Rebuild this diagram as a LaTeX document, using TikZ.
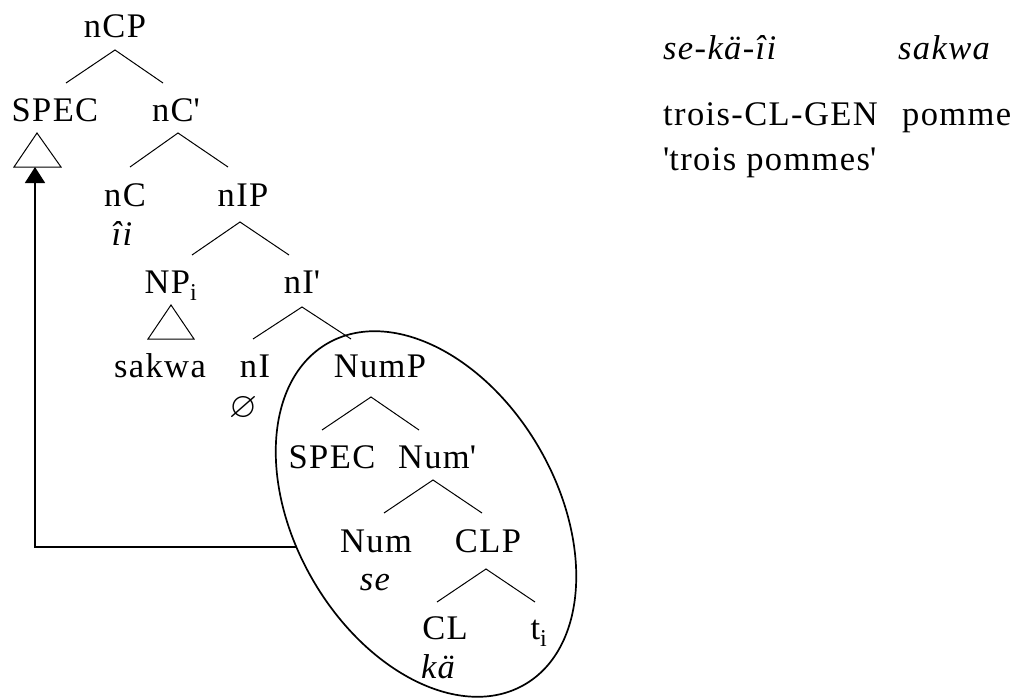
\documentclass[tikz,border=0pt]{standalone}
\usepackage{fontspec}
\setmainfont{Liberation Serif}[LetterSpace=4]
\usepackage{amssymb}
\usetikzlibrary{arrows.meta}
\begin{document}
\begin{tikzpicture}[x=1pt,y=-1pt,
  font=\fontsize{34.5}{40}\selectfont,
  tx/.style={inner sep=0pt, anchor=base},
  gl/.style={inner sep=0pt, anchor=base west},
  br/.style={line width=1pt},
  tri/.style={line width=1pt},
  mv/.style={line width=1.7pt},
  ring/.style={line width=1.7pt}]
\useasboundingbox (0,0) rectangle (1014,698);

% tree labels
\node[tx] (nCP)   at (115,38)  {nCP};
\node[tx] (spec1) at (55,122)  {SPEC};
\node[tx] (nCb)   at (176,122) {nC\textquotesingle};
\node[tx] (nC)    at (125,206) {nC};
\node[tx] (ii)    at (122,245) {\itshape îi};
\node[tx] (nIP)   at (243,206) {nIP};
\node[tx] (NP)    at (171,293) {NP\textsubscript{i}};
\node[tx] (nIb)   at (302,293) {nI\textquotesingle};
\node[tx] (sakwa) at (160,377) {sakwa};
\node[tx] (nI)    at (255,377) {nI};
\node[tx, text height=20pt, text depth=1pt] (empty) at (243,417) {\fontsize{36}{36}\selectfont$\varnothing$};
\node[tx] (NumP)  at (380,377) {NumP};
\node[tx] (spec2) at (332,468) {SPEC};
\node[tx] (Numb)  at (437,468) {Num\textquotesingle};
\node[tx] (Num)   at (376,552) {Num};
\node[tx] (se)    at (375,590) {\itshape se};
\node[tx] (CLP)   at (488,552) {CLP};
\node[tx] (CL)    at (445,639) {CL};
\node[tx] (ka)    at (438,678) {\itshape kä};
\node[tx] (ti)    at (539,639) {t\textsubscript{i}};

% branch points
\coordinate (a1) at (115,50);  \coordinate (a1l) at (66,83);   \coordinate (a1r) at (163,83);
\coordinate (a2) at (178,133); \coordinate (a2l) at (130,167); \coordinate (a2r) at (228,167);
\coordinate (a3) at (240,222); \coordinate (a3l) at (192,255); \coordinate (a3r) at (289,255);
\coordinate (a4) at (302,307); \coordinate (a4l) at (253,339); \coordinate (a4r) at (351,339);
\coordinate (a5) at (371,397); \coordinate (a5l) at (322,430); \coordinate (a5r) at (419,430);
\coordinate (a6) at (433,480); \coordinate (a6l) at (384,513); \coordinate (a6r) at (482,513);
\coordinate (a7) at (486,569); \coordinate (a7l) at (437,602); \coordinate (a7r) at (535,602);

\draw[br] (a1l) -- (a1) -- (a1r);
\draw[br] (a2l) -- (a2) -- (a2r);
\draw[br] (a3l) -- (a3) -- (a3r);
\draw[br] (a4l) -- (a4) -- (a4r);
\draw[br] (a5l) -- (a5) -- (a5r);
\draw[br] (a6l) -- (a6) -- (a6r);
\draw[br] (a7l) -- (a7) -- (a7r);

% triangles
\coordinate (t1) at (37,133); \coordinate (t1l) at (14,167); \coordinate (t1r) at (61,167);
\coordinate (t1b) at (35,167);
\draw[tri] (t1) -- (t1l) -- (t1r) -- cycle;
\coordinate (t2) at (171,305); \coordinate (t2l) at (148,339); \coordinate (t2r) at (194,339);
\draw[tri] (t2) -- (t2l) -- (t2r) -- cycle;

% ellipse
\draw[ring, rotate around={-60:(426,514)}] (426,514) ellipse [x radius=197pt, y radius=131pt];

% movement arrow
\coordinate (mvS) at (296,547);
\coordinate (mvC) at (35,547);
\draw[mv, -{Triangle[width=20pt,length=16pt]}] (mvS) -- (mvC) -- (t1b);

% gloss
\node[gl] (g1) at (663,60)  {\itshape se-kä-îi};
\node[gl] (g2) at (898,60)  {\itshape sakwa};
\node[gl] (g3) at (663,126) {trois-CL-GEN};
\node[gl] (g4) at (902,126) {pomme};
\node[gl] (g5) at (663,170) {\textquotesingle trois pommes\textquotesingle};
\end{tikzpicture}
\end{document}
